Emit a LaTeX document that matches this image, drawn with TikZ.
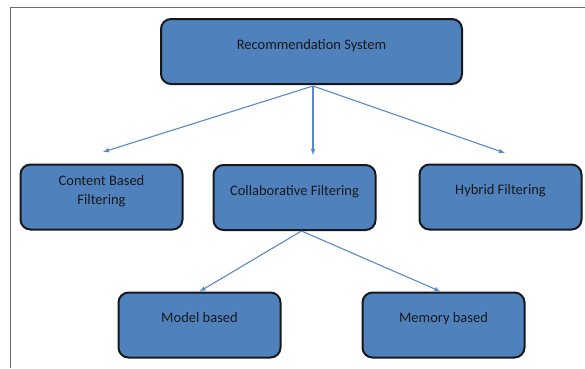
\documentclass[tikz,border=0pt]{standalone}
\usepackage{fontspec}
\setmainfont{Carlito}
\usepackage{xcolor}
\usetikzlibrary{arrows,positioning}
\definecolor{recblue}{RGB}{79,129,189}
\definecolor{recline}{RGB}{88,138,200}
\definecolor{recedge}{RGB}{22,24,30}
\definecolor{recframe}{RGB}{110,110,110}

\begin{document}
\begin{tikzpicture}[x=1pt, y=-1pt,
    recbox/.style={rectangle, draw=recedge, line width=2pt, rounded corners=10pt,
        fill=recblue, minimum width=162pt, minimum height=65pt, align=center,
        text depth=15pt, font=\fontsize{14.5}{19}\selectfont, text=black!90},
    flow/.style={-latex, draw=recline, line width=1.1pt}]
    \useasboundingbox (0,0) rectangle (585,368);

    % Page frame
    \draw[recframe, line width=0.9pt] (10,368) -- (10,7.5) -- (585,7.5);

    % Root
    \node[recbox, minimum width=301pt] (rec) at (311.5,51.5) {Recommendation System};

    % Filtering types
    \node[recbox] (content) at (101.5,197) {Content Based\\Filtering};
    \node[recbox] (collab) at (294.5,197.5) {Collaborative Filtering};
    \node[recbox] (hybrid) at (500.5,197) {Hybrid Filtering};

    % Collaborative sub types
    \node[recbox] (model) at (199.5,325) {Model based};
    \node[recbox] (memory) at (443.5,325) {Memory based};

    % Arrows
    \coordinate (recout) at (313,86);
    \coordinate (tipcontent) at (103,152);
    \coordinate (tipcollab) at (313,155);
    \coordinate (tiphybrid) at (505,153);
    \foreach \tip in {tipcontent,tipcollab,tiphybrid} {
        \draw[flow] (recout) -- (\tip);
    }
    \draw[flow] ([xshift=7pt]collab.south) -- (model.north);
    \draw[flow] ([xshift=7pt]collab.south) -- ([xshift=-3pt]memory.north);
\end{tikzpicture}
\end{document}
